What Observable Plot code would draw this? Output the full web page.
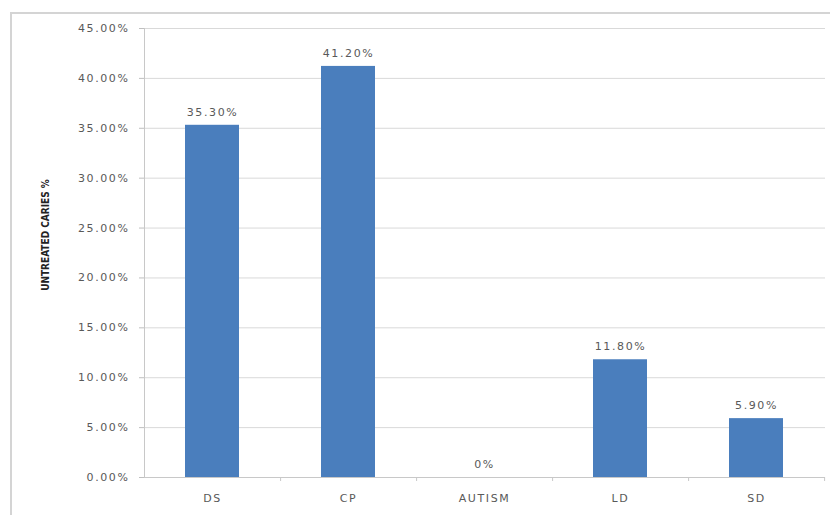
<!DOCTYPE html>
<html>
<head>
<meta charset="utf-8">
<script src="https://cdn.jsdelivr.net/npm/d3@7"></script>
<script src="https://cdn.jsdelivr.net/npm/@observablehq/plot@0.6"></script>
<style>
  html, body { margin: 0; padding: 0; background: #fff; }
  #wrap { position: relative; width: 830px; height: 515px; overflow: hidden; }
  #border {
    position: absolute; left: 10px; top: 12px; width: 840px; height: 520px;
    border-top: 2px solid #d4d4d4; border-left: 2px solid #d4d4d4;
    box-sizing: border-box;
  }
  #chart { position: absolute; left: 0; top: 0; }
  #chart svg text { fill: #595959; letter-spacing: 1.6px; }
  #chart svg .ytitle text { fill: #222; letter-spacing: 0; }
</style>
</head>
<body>
<div id="wrap">
  <div id="border"></div>
  <div id="chart"></div>
</div>
<script>
// Untreated caries by group
const groups = ["DS", "CP", "AUTISM", "LD", "SD"];
const caries = [35.3, 41.2, 0, 11.8, 5.9];
const yTicks = [0, 5, 10, 15, 20, 25, 30, 35, 40, 45];
const yTitle = "UNTREATED CARIES %";

const data = groups.map((g, i) => ({group: g, value: caries[i]}));
const valueLabel = v => v === 0 ? "0%" : v.toFixed(2) + "%";

const W = 830, H = 515;
const mL = 144, mR = 5, mT = 28, mB = 38;
const step = (W - mL - mR) / groups.length;

const chart = Plot.plot({
  width: W,
  height: H,
  marginLeft: mL,
  marginRight: mR,
  marginTop: mT,
  marginBottom: mB,
  style: {fontFamily: "'DejaVu Sans', sans-serif", fontSize: "11px", background: "transparent"},
  x: {domain: groups, paddingInner: 0.6, paddingOuter: 0.3, label: null},
  y: {domain: [0, 45], label: null},
  marks: [
    Plot.gridY(yTicks, {stroke: "#d9d9d9", strokeOpacity: 1}),
    Plot.axisY(yTicks, {
      tickSize: 5, tickPadding: 10, stroke: "#bfbfbf",
      tickFormat: d => d.toFixed(2) + "%", label: null
    }),
    Plot.frame({anchor: "left", stroke: "#c8c8c8"}),
    Plot.ruleY([0], {stroke: "#c8c8c8"}),
    // boundary ticks between categories
    Plot.axisX({
      tickSize: 4, dx: step / 2, tickFormat: () => "", stroke: "#c8c8c8", label: null
    }),
    Plot.axisX({tickSize: 0, tickPadding: 17, label: null}),
    Plot.barY(data, {x: "group", y: "value", fill: "#4a7ebd"}),
    Plot.text(data, {
      x: "group", y: "value", text: d => valueLabel(d.value),
      dy: -13, fontSize: 11
    }),
    Plot.text([yTitle], {
      frameAnchor: "left", textAnchor: "middle", dx: -99, dy: -18, rotate: -90,
      fontWeight: "bold", fontSize: 10,
      fontFamily: "'Liberation Sans Narrow', 'DejaVu Sans Condensed', sans-serif",
      className: "ytitle"
    })
  ]
});

document.getElementById("chart").appendChild(chart);
</script>
</body>
</html>
